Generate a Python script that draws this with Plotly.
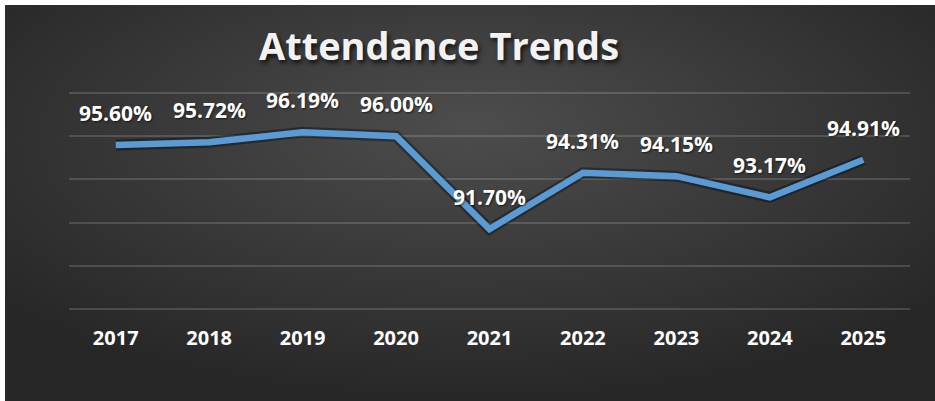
import base64
import plotly.graph_objects as go

years = ["2017", "2018", "2019", "2020", "2021", "2022", "2023", "2024", "2025"]
attendance = [95.60, 95.72, 96.19, 96.00, 91.70, 94.31, 94.15, 93.17, 94.91]
labels = [f"{v:.2f}%" for v in attendance]
title_text = "Attendance Trends"

W, H = 935, 401
L, R, T, B = 69, 25, 92, 91
pw, ph = W - L - R, H - T - B
FONT = "Open Sans"

svg = (
    '<svg xmlns="http://www.w3.org/2000/svg" width="930" height="396" viewBox="0 0 930 396" preserveAspectRatio="none">'
    '<defs><radialGradient id="g" cx="0.5" cy="0.35" r="0.65" fx="0.5" fy="0.3">'
    '<stop offset="0" stop-color="#4d4d4d"/><stop offset="1" stop-color="#272727"/>'
    '</radialGradient></defs><rect width="930" height="396" fill="url(#g)"/></svg>'
)
uri = "data:image/svg+xml;base64," + base64.b64encode(svg.encode()).decode()

fig = go.Figure()
fig.add_trace(go.Scatter(
    x=years, y=attendance, mode="lines",
    line=dict(color="rgba(0,0,0,0.35)", width=11),
    hoverinfo="skip", showlegend=False,
))
fig.add_trace(go.Scatter(
    x=years, y=attendance, mode="lines",
    line=dict(color="#5B9BD5", width=6.5),
    showlegend=False,
))

for i, (y, t) in enumerate(zip(attendance, labels)):
    fig.add_annotation(
        x=i, y=y, text=t, showarrow=False, yshift=32,
        font=dict(family=FONT, size=21, color="white", weight="bold",
                  shadow="1px 1px 2px rgba(0,0,0,0.6)"),
    )

fig.add_layout_image(dict(
    source=uri, xref="paper", yref="paper",
    x=(5 - L) / pw, y=1 + (T - 5) / ph,
    sizex=(W - 5) / pw, sizey=(H - 5) / ph,
    xanchor="left", yanchor="top", sizing="stretch", layer="below",
))

fig.update_layout(
    width=W, height=H,
    margin=dict(l=L, r=R, t=T, b=B),
    paper_bgcolor="white",
    plot_bgcolor="rgba(0,0,0,0)",
    title=dict(
        text=title_text, x=439 / W, xref="container", xanchor="center",
        y=1 - 47 / H, yref="container", yanchor="middle",
        font=dict(family=FONT, size=38, color="#f2f2f2", weight="bold",
                  shadow="2px 3px 4px rgba(0,0,0,0.7)"),
    ),
    xaxis=dict(
        type="category", range=[-0.5, 8.5], showgrid=False, zeroline=False,
        showline=False, ticks="", ticklabelstandoff=14,
        tickfont=dict(family=FONT, size=20, color="white", weight="bold"),
    ),
    yaxis=dict(
        range=[87.95, 98.05], dtick=2, tick0=88, showticklabels=False,
        showgrid=True, gridcolor="rgba(255,255,255,0.15)", gridwidth=1.5,
        zeroline=False, showline=False,
    ),
)

fig.write_html("out.html", config={"displayModeBar": False},
               post_script="document.body.style.margin='0';")
